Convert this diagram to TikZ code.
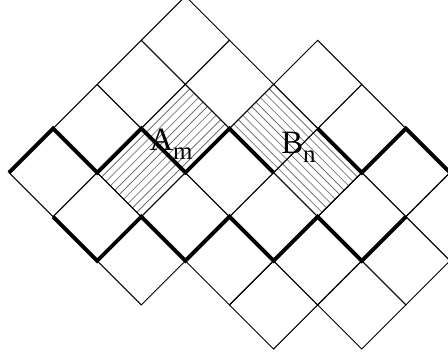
\documentclass[tikz,border=0pt]{standalone}
\usepackage{fontspec}
\setmainfont{Liberation Serif}
\usepackage{tikz}

\begin{document}
\begin{tikzpicture}[
  x=1cm, y=-1cm,
  cell/.style={draw, line width=0.6pt},
  thickline/.style={line width=2.5pt, line join=miter},
  hatchline/.style={draw=black!65, line width=0.4pt},
  lbl/.style={inner sep=0pt, anchor=base west, font=\fontsize{21}{21}\selectfont}
]
\useasboundingbox (-0.204,-0.914) rectangle (9.955,7.204);
\clip (-0.204,-0.914) rectangle (9.955,7.204);

% rotated frame: (u,v) with the cells as unit squares
\begin{scope}[x={(0.5cm,0.5cm)}, y={(0.5cm,-0.5cm)}]
  % hatched cells
  \begin{scope}
    \clip (-1,5) -- (3,5) -- (3,7) -- (-1,7) -- cycle;
    \foreach \t in {5.2,5.4,...,6.9}
      \draw[hatchline] (-1,\t) -- (3,\t);
  \end{scope}
  \begin{scope}
    \clip (3,7) -- (5,7) -- (5,11) -- (3,11) -- cycle;
    \foreach \t in {3.2,3.4,...,4.9}
      \draw[hatchline] (\t,7) -- (\t,11);
  \end{scope}
  % the cells
  \foreach \u/\v in {-2/4,0/4,2/4,4/4,
                     -2/6,0/6,2/6,4/6,
                     -2/8,0/8,2/8,4/8,6/8,
                     0/10,2/10,4/10,6/10,
                     0/12,2/12,4/12,6/12,
                     2/14,4/14,6/14}
    \draw[cell] (\u-1,\v-1) -- (\u+1,\v-1) -- (\u+1,\v+1) -- (\u-1,\v+1) -- cycle;
\end{scope}

% thick paths
\draw[thickline] (0,3) -- (1,2) -- (2,3) -- (3,2) -- (4,3) -- (5,2) -- (6,3);
\draw[thickline] (7,2) -- (8,3) -- (9,2) -- (10,3);
\draw[thickline] (1,4) -- (2,5) -- (3,4) -- (4,5) -- (5,4) -- (6,5)
                 -- (7,4) -- (8,5) -- (9,4);

% labels
\node (alabel) [lbl] at (3.18,2.49)
  {A\raisebox{-6pt}{\fontsize{16}{16}\selectfont m}};
\node (blabel) [lbl] at (6.17,2.56)
  {B\raisebox{-6pt}{\fontsize{16}{16}\selectfont n}};
\end{tikzpicture}
\end{document}
